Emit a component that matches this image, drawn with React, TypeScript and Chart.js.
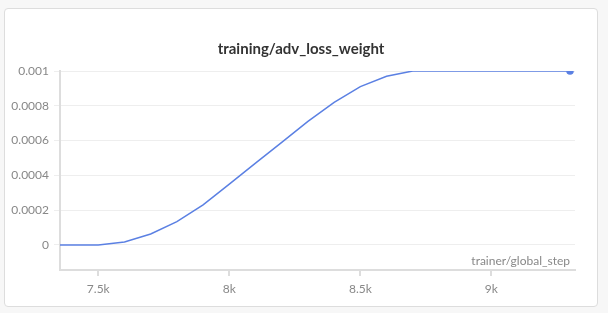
import React, { useEffect, useRef } from "react";
import { Chart, registerables } from "chart.js";

Chart.register(...registerables);

const steps = [7300, 7400, 7500, 7600, 7700, 7800, 7900, 8000, 8100, 8200, 8300, 8400, 8500, 8600, 8700, 8800, 8900, 9000, 9100, 9200, 9300];
const weights = [0, 0, 0, 0.000017, 0.000063, 0.000134, 0.00023, 0.00035, 0.00047, 0.00059, 0.00071, 0.00082, 0.00091, 0.00097, 0.001, 0.001, 0.001, 0.001, 0.001, 0.001, 0.001];
const xTickValues = [7500, 8000, 8500, 9000];
const xTickLabels = ["7.5k", "8k", "8.5k", "9k"];
const yTickValues = [0, 0.0002, 0.0004, 0.0006, 0.0008, 0.001];
const yTickLabels = ["0", "0.0002", "0.0004", "0.0006", "0.0008", "0.001"];
const chartTitle = "training/adv_loss_weight";
const xAxisTitle = "trainer/global_step";

const FONT = "Lato, 'Noto Sans', sans-serif";
const LINE = "#5b80e3";

export default function App() {
  const ref = useRef<HTMLCanvasElement | null>(null);

  useEffect(() => {
    if (!ref.current) return;
    const textPlugin = {
      id: "overlayText",
      afterDraw(chart: any) {
        const ctx = chart.ctx;
        const a = chart.chartArea;
        ctx.save();
        ctx.fillStyle = "#333";
        ctx.font = `bold 15px ${FONT}`;
        ctx.textAlign = "center";
        ctx.textBaseline = "middle";
        ctx.fillText(chartTitle, chart.width / 2, 40);
        ctx.fillStyle = "#888";
        ctx.font = `12px ${FONT}`;
        ctx.textAlign = "right";
        ctx.textBaseline = "middle";
        ctx.fillText(xAxisTitle, a.right - 5, a.bottom - 9);
        ctx.restore();
      },
    };
    const chart = new Chart(ref.current, {
      type: "line",
      data: {
        datasets: [
          {
            data: steps.map((s, i) => ({ x: s, y: weights[i] })),
            borderColor: LINE,
            backgroundColor: LINE,
            borderWidth: 1.5,
            pointRadius: steps.map((_, i) => (i === steps.length - 1 ? 3 : 0)),
            pointHoverRadius: 0,
            tension: 0,
          },
        ],
      },
      options: {
        animation: false,
        responsive: false,
        maintainAspectRatio: false,
        layout: { padding: { top: 62, right: 22, left: 0, bottom: 0 } },
        plugins: { legend: { display: false }, tooltip: { enabled: false }, title: { display: false } },
        scales: {
          x: {
            type: "linear",
            min: 7354,
            max: 9319,
            afterBuildTicks: (s: any) => {
              s.ticks = xTickValues.map((v) => ({ value: v }));
            },
            afterFit: (s: any) => {
              s.height = 36;
            },
            ticks: {
              callback: (v: any) => {
                const i = xTickValues.indexOf(Number(v));
                return i >= 0 ? xTickLabels[i] : "";
              },
              color: "#888",
              font: { family: FONT, size: 12 },
              padding: 6,
              maxRotation: 0,
            },
            grid: { drawOnChartArea: false, drawTicks: true, tickLength: 6, color: "#ddd", lineWidth: 2 },
            border: { color: "#ddd", width: 2 },
          },
          y: {
            type: "linear",
            min: -0.000144,
            max: 0.001,
            afterBuildTicks: (s: any) => {
              s.ticks = yTickValues.map((v) => ({ value: v }));
            },
            afterFit: (s: any) => {
              s.width = 55;
            },
            ticks: {
              callback: (v: any) => {
                const i = yTickValues.findIndex((t) => Math.abs(t - Number(v)) < 1e-9);
                return i >= 0 ? yTickLabels[i] : "";
              },
              color: "#888",
              font: { family: FONT, size: 12 },
              padding: 5,
            },
            grid: { color: "#eeeeee", lineWidth: 1, tickLength: 6, tickColor: "#eeeeee" },
            border: { color: "#ddd", width: 2 },
          },
        },
      },
      plugins: [textPlugin],
    });
    return () => chart.destroy();
  }, []);

  return (
    <div style={{ position: "fixed", inset: 0, background: "#f7f7f7" }}>
      <div
        style={{
          position: "absolute",
          left: 4,
          top: 8,
          width: 592,
          height: 297,
          border: "1px solid #dddddd",
          borderRadius: 4,
          background: "#fff",
        }}
      >
        <canvas ref={ref} width={592} height={297} style={{ display: "block" }} />
      </div>
    </div>
  );
}
